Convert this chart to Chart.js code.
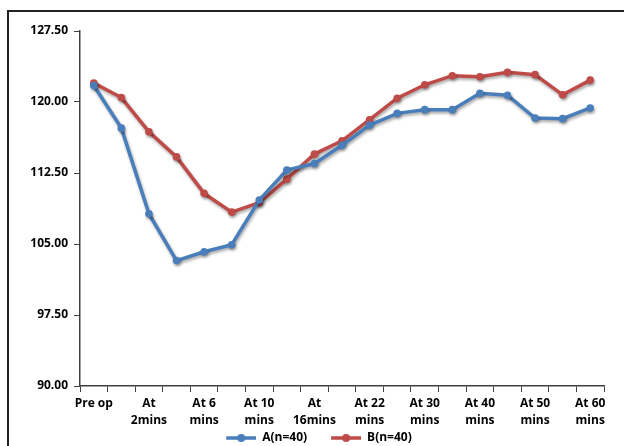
<!DOCTYPE html>
<html>
<head>
<meta charset="utf-8">
<script src="https://cdn.jsdelivr.net/npm/chart.js@4/dist/chart.umd.min.js"></script>
<style>
  html, body { margin: 0; padding: 0; background: #fff; }
  #wrap { position: relative; width: 624px; height: 446px; overflow: hidden; }
  #c { position: absolute; left: 0; top: 0; }
  #frame { position: absolute; left: 7px; top: 10px; width: 660px; height: 480px;
           border: 2px solid #222; box-sizing: border-box; pointer-events: none; }
</style>
</head>
<body>
<div id="wrap">
  <canvas id="c" width="624" height="454"></canvas>
  <div id="frame"></div>
</div>
<script>
// Time points (every other one carries a printed label)
const categories = [
  ['Pre op'], [''], ['At', '2mins'], [''], ['At 6', 'mins'], [''],
  ['At 10', 'mins'], [''], ['At', '16mins'], [''], ['At 22', 'mins'], [''],
  ['At 30', 'mins'], [''], ['At 40', 'mins'], [''], ['At 50', 'mins'], [''],
  ['At 60', 'mins']
];

const seriesA = [121.75, 117.24, 108.2, 103.25, 104.18, 104.92, 109.64, 112.8, 113.5, 115.43,
                 117.56, 118.8, 119.19, 119.19, 120.93, 120.72, 118.31, 118.24, 119.37];
const seriesB = [122.0, 120.47, 116.85, 114.2, 110.35, 108.37, 109.36, 111.85, 114.5, 115.9,
                 118.13, 120.4, 121.82, 122.78, 122.67, 123.13, 122.89, 120.76, 122.31];

const yTicks = [90, 97.5, 105, 112.5, 120, 127.5];

const blue = '#4a7ebb';
const red = '#be4b48';

// Legend swatch: blank lead-in, then a short line with a round marker in the middle
const SW_LEAD = 20, SW_LINE = 30;
function swatch(color) {
  const cv = document.createElement('canvas');
  cv.width = SW_LEAD + SW_LINE; cv.height = 10;
  const g = cv.getContext('2d');
  g.strokeStyle = color; g.lineWidth = 3.5;
  g.beginPath(); g.moveTo(SW_LEAD, 5); g.lineTo(SW_LEAD + SW_LINE, 5); g.stroke();
  g.fillStyle = color;
  g.beginPath(); g.arc(SW_LEAD + SW_LINE / 2, 5, 4, 0, Math.PI * 2); g.fill();
  return cv;
}

// Soft drop shadow under the series lines
const shadowPlugin = {
  id: 'lineShadow',
  beforeDatasetsDraw(chart) {
    const ctx = chart.ctx;
    ctx.save();
    ctx.shadowColor = 'rgba(0,0,0,0.35)';
    ctx.shadowBlur = 3;
    ctx.shadowOffsetX = 1;
    ctx.shadowOffsetY = 2;
  },
  afterDatasetsDraw(chart) {
    chart.ctx.restore();
  }
};

const fam = "'Open Sans', 'Liberation Sans', sans-serif";
const tickFont = { family: fam, size: 12, weight: 'bold', lineHeight: 1.4 };

new Chart(document.getElementById('c'), {
  type: 'line',
  data: {
    labels: categories,
    datasets: [
      { label: 'A(n=40)', data: seriesA, borderColor: blue, backgroundColor: blue,
        borderWidth: 3.5, pointRadius: 3.8, pointBackgroundColor: blue, pointBorderWidth: 0,
        pointStyle: 'circle', tension: 0 },
      { label: 'B(n=40)', data: seriesB, borderColor: red, backgroundColor: red,
        borderWidth: 3.5, pointRadius: 3.8, pointBackgroundColor: red, pointBorderWidth: 0,
        pointStyle: 'circle', tension: 0 }
    ]
  },
  options: {
    responsive: false,
    animation: false,
    devicePixelRatio: 1,
    layout: { padding: { left: 14, right: 20, top: 31, bottom: 0 } },
    plugins: {
      tooltip: { enabled: false },
      legend: {
        position: 'bottom',
        labels: {
          usePointStyle: true,
          pointStyleWidth: SW_LEAD + SW_LINE,
          color: '#000',
          font: { family: fam, size: 12, weight: 'bold' },
          padding: 4,
          boxHeight: 10,
          generateLabels(chart) {
            return chart.data.datasets.map((ds, i) => ({
              text: ds.label,
              fillStyle: ds.borderColor,
              strokeStyle: ds.borderColor,
              lineWidth: 0,
              pointStyle: swatch(ds.borderColor),
              datasetIndex: i,
              hidden: false
            }));
          }
        }
      }
    },
    scales: {
      x: {
        offset: true,
        afterFit(scale) { scale.height = 42; },
        grid: { offset: true, drawOnChartArea: false, drawTicks: true, tickLength: 6, color: '#404040' },
        border: { display: true, color: '#404040', width: 1.5 },
        ticks: {
          autoSkip: false, maxRotation: 0, minRotation: 0, color: '#000',
          font: tickFont, padding: 3
        }
      },
      y: {
        min: 90, max: 127.5,
        afterFit(scale) { scale.width = 66; },
        afterBuildTicks(scale) { scale.ticks = yTicks.map(v => ({ value: v })); },
        grid: { drawOnChartArea: false, drawTicks: true, tickLength: 6, color: '#404040' },
        border: { display: true, color: '#404040', width: 1.5 },
        ticks: {
          color: '#000', font: tickFont, padding: 6,
          callback: v => Number(v).toFixed(2)
        }
      }
    }
  },
  plugins: [shadowPlugin]
});
</script>
</body>
</html>
